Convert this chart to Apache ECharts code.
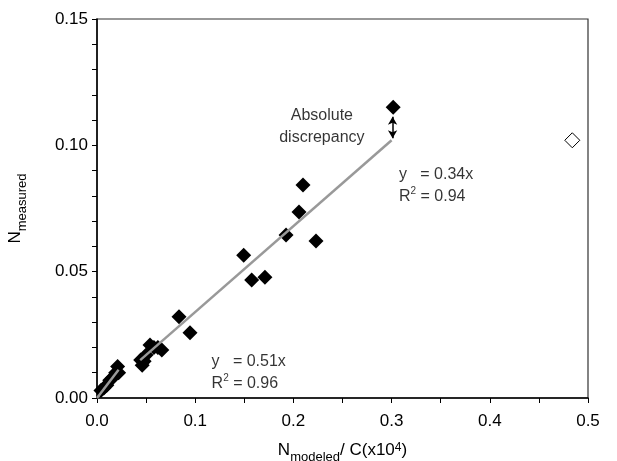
<!DOCTYPE html>
<html><head><meta charset="utf-8">
<script src="https://cdn.jsdelivr.net/npm/echarts@6/dist/echarts.min.js"></script>
<style>html,body{margin:0;padding:0;background:#fff}#c{width:617px;height:461px}</style>
</head><body><div id="c"></div>
<script>
// Data
const seriesMain = [[0.0445,0.015],[0.046,0.013],[0.048,0.0145],[0.050,0.017],[0.054,0.021],[0.058,0.020],[0.062,0.020],[0.066,0.019],[0.0835,0.0322],[0.0947,0.0258],[0.1494,0.0565],[0.1575,0.0467],[0.171,0.0478],[0.1925,0.0645],[0.2057,0.0736],[0.2098,0.0843],[0.223,0.0621],[0.3016,0.1151]];
const seriesLow = [[0.004,0.003],[0.007,0.004],[0.010,0.005],[0.013,0.007],[0.016,0.008],[0.019,0.010],[0.021,0.0125],[0.022,0.010]];
const seriesOutlier = [[0.484,0.102]];
const fitMain = [[0.044,0.015],[0.300,0.102]];
const fitLow = [[0.0,0.0],[0.022,0.0112]];
const arrowSeg = [[0.301,0.1113],[0.301,0.1028]];
const xTicks = {min:0, max:0.5, interval:0.1};
const yTicks = {min:0, max:0.15, interval:0.05};
const notes = [
  [0.229, 0.1076, '{t|Absolute}\n{t|discrepancy}', 'center'],
  [0.3075, 0.0839, '{t|y   = 0.34x}\n{t|R}{sup|2}{t| = 0.94}', 'left'],
  [0.1167, 0.0099, '{t|y   = 0.51x}\n{t|R}{sup|2}{t| = 0.96}', 'left']
];

const FF = '"Liberation Sans", Arial, sans-serif';
const richText = {
  t:{fontSize:16, lineHeight:22, fontFamily:FF, color:'#000'},
  sup:{fontSize:10, lineHeight:14, verticalAlign:'top', fontFamily:FF, color:'#000'}
};
const chart = echarts.init(document.getElementById('c'));
chart.setOption({
  animation:false,
  backgroundColor:'#fff',
  grid:{left:97, right:29, top:19, bottom:63, containLabel:false, outerBoundsMode:'none',
    show:true, borderColor:'#333', borderWidth:1.2, backgroundColor:'transparent'},
  xAxis:{
    type:'value', min:xTicks.min, max:xTicks.max, interval:xTicks.interval,
    name:'{n|N}{s|modeled}{n|/ C(x10}{sup|4}{n|)}', nameLocation:'middle', nameGap:44,
    nameTextStyle:{rich:{
      n:{fontSize:17, lineHeight:22, verticalAlign:'top', fontFamily:FF, color:'#000'},
      s:{fontSize:13, lineHeight:13, verticalAlign:'bottom', fontFamily:FF, color:'#000'},
      sup:{fontSize:12, lineHeight:16, verticalAlign:'top', fontFamily:FF, color:'#000'}
    }},
    axisLine:{lineStyle:{color:'#000', width:1.5}},
    axisTick:{show:true, inside:false, length:5, lineStyle:{color:'#000', width:1}},
    minorTick:{show:true, splitNumber:2, length:5, lineStyle:{color:'#000', width:1}},
    splitLine:{show:false},
    axisLabel:{fontSize:17, fontFamily:FF, color:'#000', margin:15, formatter:v=>v.toFixed(1)}
  },
  yAxis:{
    type:'value', min:yTicks.min, max:yTicks.max, interval:yTicks.interval,
    name:'{n|N}{s|measured}', nameLocation:'middle', nameGap:68, nameRotate:90,
    nameTextStyle:{rich:{
      n:{fontSize:17, lineHeight:22, verticalAlign:'top', fontFamily:FF, color:'#000'},
      s:{fontSize:13, lineHeight:13, verticalAlign:'bottom', fontFamily:FF, color:'#000'}
    }},
    axisLine:{lineStyle:{color:'#000', width:1.5}},
    axisTick:{show:true, inside:false, length:5, lineStyle:{color:'#000', width:1}},
    minorTick:{show:true, splitNumber:5, length:5, lineStyle:{color:'#000', width:1}},
    splitLine:{show:false},
    axisLabel:{fontSize:17, fontFamily:FF, color:'#000', margin:9, formatter:v=>v.toFixed(2)}
  },
  series:[
    {type:'scatter', data:seriesMain, symbol:'diamond', symbolSize:15, itemStyle:{color:'#000', opacity:1}, z:2},
    {type:'scatter', data:seriesLow, symbol:'diamond', symbolSize:15, itemStyle:{color:'#000', opacity:1}, z:2},
    {type:'scatter', data:seriesOutlier, symbol:'diamond', symbolSize:15, itemStyle:{color:'#fff', borderColor:'#000', borderWidth:1, opacity:1}, z:2},
    {type:'line', data:fitMain, showSymbol:false, lineStyle:{color:'#999', width:2.5}, z:3,
      markLine:{silent:true, symbol:['arrow','arrow'], symbolSize:[7,8],
        lineStyle:{color:'#000', width:1.5, type:'solid'}, label:{show:false},
        data:[[{coord:arrowSeg[0]},{coord:arrowSeg[1]}]]}},
    {type:'line', data:fitLow, showSymbol:false, lineStyle:{color:'#999', width:2.5}, z:3},
    {type:'scatter', symbolSize:0, z:4, silent:true,
      data:notes.map(n=>({value:[n[0],n[1]], label:{show:true, position:'inside', align:n[3], formatter:n[2], rich:richText}}))}
  ]
});
</script></body></html>
